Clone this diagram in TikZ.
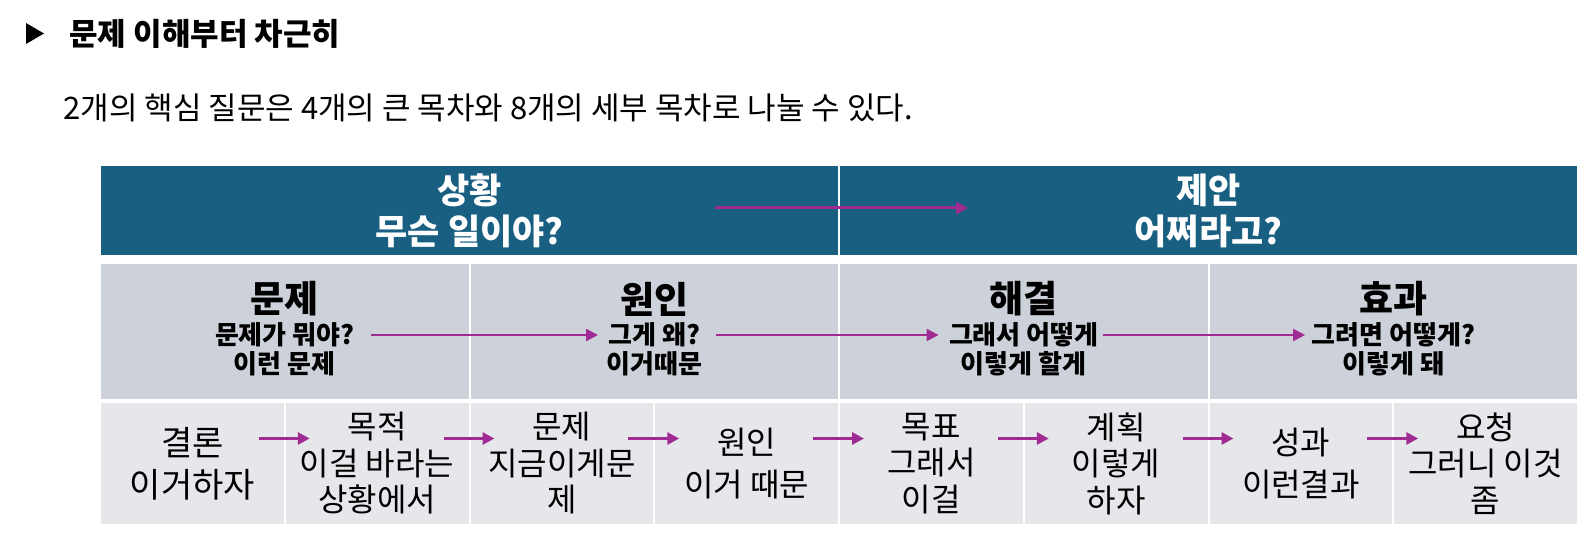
\documentclass[tikz,border=0pt]{standalone}
\usepackage{fontspec}
\setmainfont{Noto Sans CJK KR}
\usetikzlibrary{arrows.meta}

\definecolor{bandblue}{HTML}{185F82}
\definecolor{bandgray}{HTML}{CDD1D9}
\definecolor{celllight}{HTML}{E5E7EB}
\definecolor{arrowpurple}{HTML}{A02B93}

\begin{document}
\begin{tikzpicture}
[
	topcell/.style={rectangle,fill=bandblue,draw=white,line width=1pt,outer sep=0pt,minimum width=369.5pt,minimum height=45.5pt,text=white,align=center,font=\fontsize{17.5}{20.5}\selectfont\bfseries},
	midcell/.style={rectangle,fill=bandgray,draw=white,line width=1pt,outer sep=0pt,minimum width=184.75pt,minimum height=68.5pt},
	lowcell/.style={rectangle,fill=celllight,draw=white,line width=1pt,outer sep=0pt,minimum width=92.375pt,minimum height=61.5pt,align=center,font=\fontsize{16}{18.25}\selectfont},
	head/.style={font=\fontsize{18.5}{20}\selectfont\bfseries,inner sep=1pt},
	sub/.style={font=\fontsize{13}{15}\selectfont\bfseries,inner sep=2pt},
	arr/.style={arrowpurple,line width=1.5pt,-{Triangle[length=6pt,width=6pt]}},
	x=0.5pt,
	y=-0.5pt
]

	\useasboundingbox (0,0) rectangle (1584,534);

	% heading
	\fill (26,23) -- (44,33.5) -- (26,44) -- cycle;
	\node[anchor=west,font=\fontsize{15.5}{18}\selectfont\bfseries,inner sep=0pt] (title) at (69,34) {문제 이해부터 차근히};
	\node[anchor=west,font=\fontsize{15.5}{18}\selectfont,inner sep=0pt] (lead) at (63,108) {2개의 핵심 질문은 4개의 큰 목차와 8개의 세부 목차로 나눌 수 있다.};

	% top band
	\node[topcell] (sit) at (469.5,210.5) {상황\\무슨 일이야?};
	\node[topcell] (prop) at (1208.5,210.5) {제안\\어쩌라고?};

	\coordinate (sitout) at (715,208);
	\coordinate (propin) at (968,208);
	\draw[arr] (sitout) -- (propin);

	% middle band
	\node[midcell] (probcell) at (284.75,331.5) {};
	\node[midcell] (causecell) at (654.25,331.5) {};
	\node[midcell] (solcell) at (1023.75,331.5) {};
	\node[midcell] (effcell) at (1393.25,331.5) {};

	\node[head] (prob) at (284.75,299) {문제};
	\node[sub] (probq) at (284.75,335) {문제가 뭐야?};
	\node[sub] (proba) at (284.75,364) {이런 문제};

	\node[head] (cause) at (654.25,299) {원인};
	\node[sub] (causeq) at (654.25,335) {그게 왜?};
	\node[sub] (causea) at (654.25,364) {이거때문};

	\node[head] (sol) at (1023.75,299) {해결};
	\node[sub] (solq) at (1023.75,335) {그래서 어떻게};
	\node[sub] (sola) at (1023.75,364) {이렇게 할게};

	\node[head] (eff) at (1393.25,299) {효과};
	\node[sub] (effq) at (1393.25,335) {그려면 어떻게?};
	\node[sub] (effa) at (1393.25,364) {이렇게 돼};

	\draw[arr,line width=1pt,shorten <=6pt,shorten >=3pt] (probq) -- (causeq);
	\draw[arr,line width=1pt,shorten <=6pt,shorten >=3pt] (causeq) -- (solq);
	\draw[arr,line width=1pt,shorten >=1pt] (solq) -- (effq);

	% bottom band
	\node[lowcell,font=\fontsize{17}{21}\selectfont] (concl) at (192.375,463.5) {결론\\이거하자};
	\node[lowcell] (purp) at (377.125,463.5) {목적\\이걸 바라는\\상황에서};
	\node[lowcell] (issue) at (561.875,463.5) {문제\\지금이게문\\제};
	\node[lowcell,font=\fontsize{16}{21}\selectfont] (reason) at (746.625,463.5) {원인\\이거 때문};
	\node[lowcell] (goal) at (931.375,463.5) {목표\\그래서\\이걸};
	\node[lowcell] (plan) at (1116.125,463.5) {계획\\이렇게\\하자};
	\node[lowcell,font=\fontsize{16}{21}\selectfont] (result) at (1300.875,463.5) {성과\\이런결과};
	\node[lowcell] (ask) at (1485.625,463.5) {요청\\그러니 이것\\좀};

	\draw[arr] ([shift={(-26,-25)}]concl.east) -- ([shift={(25,-25)}]purp.west);
	\draw[arr] ([shift={(-26,-25)}]purp.east) -- ([shift={(25,-25)}]issue.west);
	\draw[arr] ([shift={(-26,-25)}]issue.east) -- ([shift={(25,-25)}]reason.west);
	\draw[arr] ([shift={(-26,-25)}]reason.east) -- ([shift={(25,-25)}]goal.west);
	\draw[arr] ([shift={(-26,-25)}]goal.east) -- ([shift={(25,-25)}]plan.west);
	\draw[arr] ([shift={(-26,-25)}]plan.east) -- ([shift={(25,-25)}]result.west);
	\draw[arr] ([shift={(-26,-25)}]result.east) -- ([shift={(25,-25)}]ask.west);

\end{tikzpicture}
\end{document}
